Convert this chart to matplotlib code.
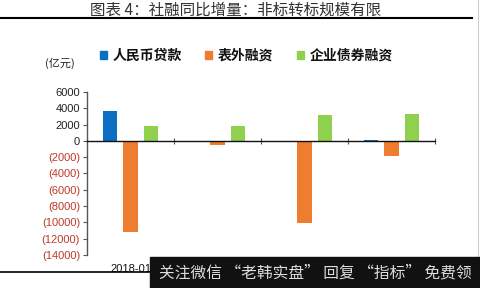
import matplotlib
matplotlib.use("Agg")
import matplotlib.pyplot as plt
from matplotlib.lines import Line2D
from matplotlib.patches import Rectangle, Patch
import numpy as np

plt.rcParams['font.family'] = ['Noto Sans CJK SC', 'DejaVu Sans']

categories = ['2018-01', '2018-02', '2018-03', '2018-04']
series_names = ['人民币贷款', '表外融资', '企业债券融资']
rmb_loans = [3700, -100, -100, 150]
off_balance = [-11200, -500, -10100, -1900]
corp_bonds = [1800, 1800, 3200, 3250]
y_ticks = [6000, 4000, 2000, 0, -2000, -4000, -6000, -8000, -10000, -12000, -14000]
colors = ['#0a6fc2', '#ee7d2f', '#8fd14f']

W, H = 480, 288
fig = plt.figure(figsize=(W / 100, H / 100), dpi=100)

def fx(px):
    return px / W

def fy(py):
    return 1 - py / H

# axes from x 87..435, y 92..255 (pixels)
ax = fig.add_axes([fx(87), fy(255), fx(435) - fx(87), fy(92) - fy(255)])
x = np.arange(len(categories))
bw = 0.17
off = 0.235
for i, (vals, c, name) in enumerate(zip([rmb_loans, off_balance, corp_bonds], colors, series_names)):
    ax.bar(x + (i - 1) * off, vals, width=bw, color=c, label=name, zorder=2)

ax.set_xlim(-0.5, len(categories) - 0.5)
ax.set_ylim(-14000, 6000)
ax.set_yticks(y_ticks)
labels = []
for v in y_ticks:
    labels.append(f'({abs(v)})' if v < 0 else f'{v}')
ax.set_yticklabels(labels, fontfamily='Liberation Sans', fontsize=8)
for t, v in zip(ax.get_yticklabels(), y_ticks):
    t.set_color('#c0392b' if v < 0 else '#222222')

for s in ['top', 'right']:
    ax.spines[s].set_visible(False)
ax.spines['bottom'].set_position(('data', 0))
ax.spines['bottom'].set_color('#111111')
ax.spines['bottom'].set_linewidth(1.0)
ax.spines['left'].set_color('#555555')
ax.spines['left'].set_linewidth(1.0)
ax.tick_params(axis='y', direction='out', length=3, width=0.8, color='#555555', pad=2)
ax.set_xticks(x + 0.5)
ax.set_xticklabels([])
ax.tick_params(axis='x', direction='inout', length=5, width=0.8, color='#555555')
for xi, cat in zip(x, categories):
    ax.text(xi, -0.086, cat, transform=ax.get_xaxis_transform(), ha='center', va='center',
            fontfamily='Liberation Sans', fontsize=8, color='#111111', zorder=1)

handles = [Patch(color=c) for c in colors]
leg = fig.legend(handles, series_names, loc='center left', bbox_to_anchor=(fx(100), fy(56)),
                 ncol=3, frameon=False, fontsize=10, handlelength=0.5, handleheight=0.5,
                 handletextpad=0.4, columnspacing=1.7, borderaxespad=0, borderpad=0)
for t in leg.get_texts():
    t.set_fontweight('bold')
    t.set_color('#111111')

fig.text(fx(60), fy(63), '(亿元)', ha='center', va='center', fontsize=8, color='#222222')

# title and rules
fig.text(fx(236), fy(10), '图表 4：社融同比增量：非标转标规模有限', ha='center', va='center',
         fontsize=11.2, color='#333333')
fig.add_artist(Line2D([0, fx(472)], [fy(17.5), fy(17.5)], color='black', lw=1.5))
fig.add_artist(Line2D([0, 1], [fy(272), fy(272)], color='black', lw=1.2))
fig.add_artist(Line2D([fx(478), fx(478)], [0, 1], color='#cccccc', lw=0.8))

# watermark banner
fig.add_artist(Rectangle((fx(150), 0), 1 - fx(150), fy(257), color='#111111', zorder=5))
fig.text(fx(159), fy(273), '关注微信 “老韩实盘” 回复 “指标” 免费领', ha='left', va='center',
         fontsize=11.3, color='#dddddd', zorder=6)

fig.savefig('out.png', dpi=100)
